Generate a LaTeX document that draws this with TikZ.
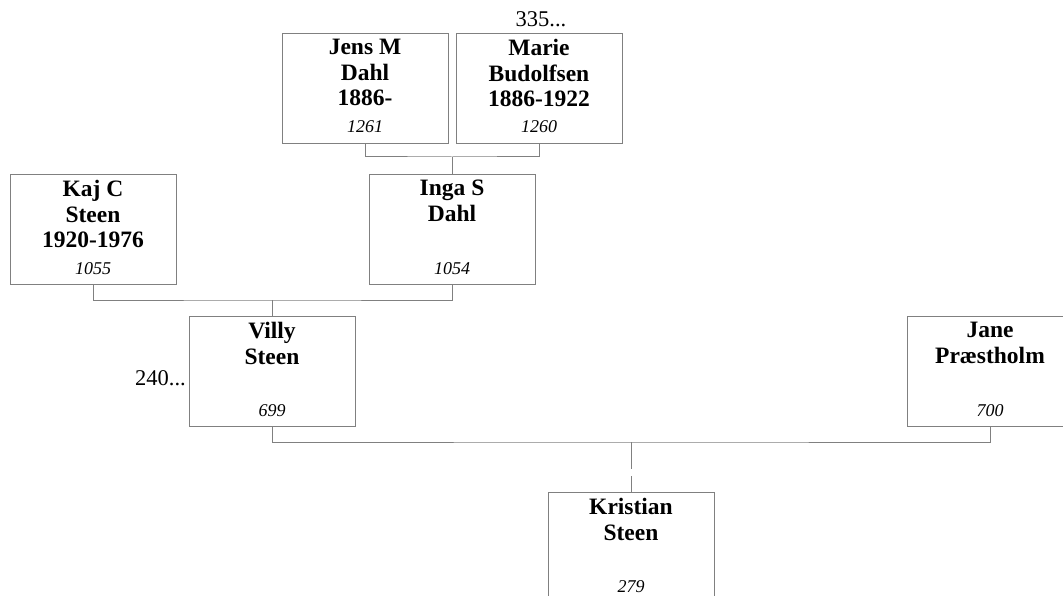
\documentclass[tikz,border=0pt]{standalone}
\usepackage{fontspec}
\setmainfont{Liberation Serif}
\definecolor{linegray}{RGB}{128,128,128}
\tikzset{
  person/.style={draw=linegray, line width=1pt, minimum width=166pt, minimum height=110pt, inner sep=0pt, anchor=north},
  pname/.style={anchor=north, inner sep=0pt, align=center, font=\fontsize{23.5}{25.5}\selectfont\bfseries},
  pid/.style={anchor=base, inner sep=0pt, font=\fontsize{18}{20}\selectfont\itshape},
  more/.style={inner sep=0pt, font=\fontsize{22.5}{24}\selectfont},
  conn/.style={draw=linegray, line width=1pt}
}
\begin{document}
\begin{tikzpicture}[x=1pt,y=-1pt]
\useasboundingbox (0,0) rectangle (1063,596);
% boxes
\node[person] (jens) at (365,33) {};
\node[person] (marie) at (539,33) {};
\node[person] (kaj) at (93,174) {};
\node[person] (inga) at (452,174) {};
\node[person] (villy) at (272,316) {};
\node[person] (jane) at (990,316) {};
\node[person] (kristian) at (631,492) {};
% names
\node[pname] (jensn) at (365,39) {Jens M\\Dahl\\1886-};
\node[pid] (jensi) at (365,133) {1261};
\node[pname] (marien) at (539,39) {Marie\\Budolfsen\\1886-1922};
\node[pid] (mariei) at (539,133) {1260};
\node[pname] (kajn) at (93,180) {Kaj C\\Steen\\1920-1976};
\node[pid] (kaji) at (93,274) {1055};
\node[pname] (ingan) at (452,180) {Inga S\\Dahl};
\node[pid] (ingai) at (452,274) {1054};
\node[pname] (villyn) at (272,322) {Villy\\Steen};
\node[pid] (villyi) at (272,416) {699};
\node[pname] (janen) at (990,322) {Jane\\Præstholm};
\node[pid] (janei) at (990,416) {700};
\node[pname] (kristiann) at (631,498) {Kristian\\Steen};
\node[pid] (kristiani) at (631,592) {279};
% more markers
\node[more, anchor=base] (m335) at (541,27) {335...};
\node[more, anchor=base east] (m240) at (186,385) {240...};
% connectors
\coordinate (j1) at (452,157);
\draw[conn] (jens.south) |- (j1) -| (marie.south);
\draw[conn] (j1) -- (inga.north);
\coordinate (j2) at (272,300);
\draw[conn] (kaj.south) |- (j2) -| (inga.south);
\draw[conn] (j2) -- (villy.north);
\coordinate (j3) at (631,442);
\coordinate (g1) at (631,469);
\coordinate (g2) at (631,476);
\draw[conn] (villy.south) |- (j3) -| (jane.south);
\draw[conn] (j3) -- (g1);
\draw[conn] (g2) -- (kristian.north);
\end{tikzpicture}
\end{document}
